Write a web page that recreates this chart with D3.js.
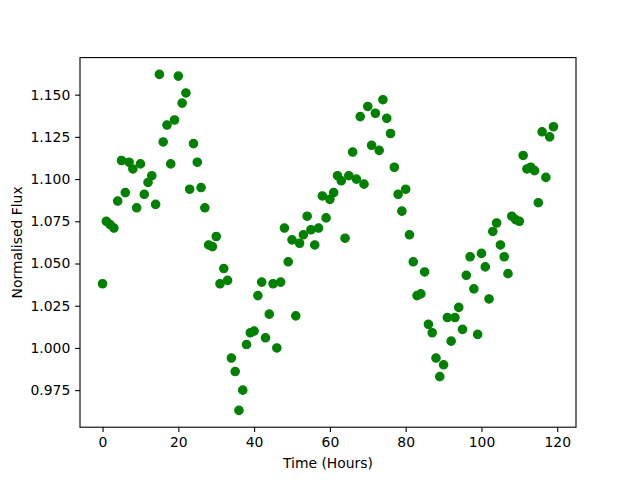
<!DOCTYPE html>
<html>
<head>
<meta charset="utf-8">
<script src="https://cdn.jsdelivr.net/npm/d3@7"></script>
<style>
  body { margin: 0; background: #fff; }
  text { font-family: "DejaVu Sans", sans-serif; }
</style>
</head>
<body>
<figure id="flux" style="margin:0"></figure>
<script>
// hours since start, one reading per hour
const hours = d3.range(0, 120);

// normalised flux
const flux = [
  1.038, 1.075, 1.073, 1.071, 1.087, 1.111, 1.092, 1.110, 1.106, 1.083,
  1.109, 1.091, 1.098, 1.102, 1.085, 1.162, 1.122, 1.132, 1.109, 1.135,
  1.161, 1.145, 1.151, 1.094, 1.121, 1.110, 1.095, 1.083, 1.061, 1.060,
  1.066, 1.038, 1.047, 1.040, 0.994, 0.986, 0.963, 0.975, 1.002, 1.009,
  1.010, 1.031, 1.039, 1.006, 1.020, 1.038, 1.000, 1.039, 1.071, 1.051,
  1.064, 1.019, 1.062, 1.067, 1.078, 1.070, 1.061, 1.071, 1.090, 1.077,
  1.088, 1.092, 1.102, 1.099, 1.065, 1.102, 1.116, 1.100, 1.137, 1.097,
  1.143, 1.120, 1.139, 1.117, 1.147, 1.136, 1.127, 1.107, 1.091, 1.081,
  1.094, 1.067, 1.051, 1.031, 1.032, 1.045, 1.014, 1.009, 0.994, 0.983,
  0.990, 1.018, 1.004, 1.018, 1.024, 1.011, 1.043, 1.054, 1.035, 1.008,
  1.056, 1.048, 1.029, 1.069, 1.074, 1.061, 1.054, 1.044, 1.078, 1.076,
  1.075, 1.114, 1.106, 1.107, 1.105, 1.086, 1.128, 1.101, 1.125, 1.131
];

const xTicks = [0, 20, 40, 60, 80, 100, 120];
const yTicks = [0.975, 1.000, 1.025, 1.050, 1.075, 1.100, 1.125, 1.150];

const W = 640, H = 480;
const margin = { top: 57.6, right: 64, bottom: 52.8, left: 80 };
const width = W - margin.left - margin.right;
const height = H - margin.top - margin.bottom;
const fontSize = 13.9;
const tick = 4.86;

const svg = d3.select("figure#flux")
  .append("svg")
  .attr("width", W)
  .attr("height", H);

const g = svg.append("g")
  .attr("transform", "translate(" + margin.left + "," + margin.top + ")");

// 5% padding either side, like matplotlib autoscale
const xMin = d3.min(hours), xMax = d3.max(hours);
const xPad = (xMax - xMin) * 0.05;
const x = d3.scaleLinear()
  .domain([xMin - xPad, xMax + xPad])
  .range([0, width]);

const yMin = d3.min(flux), yMax = d3.max(flux);
const yPad = (yMax - yMin) * 0.05;
const y = d3.scaleLinear()
  .domain([yMin - yPad, yMax + yPad])
  .range([height, 0]);

// points
g.selectAll("circle")
  .data(hours)
  .enter()
  .append("circle")
  .attr("cx", (d, i) => x(d))
  .attr("cy", (d, i) => y(flux[i]))
  .attr("r", 4.2)
  .attr("fill", "#008000")
  .attr("stroke", "#008000")
  .attr("stroke-width", 1.2);

// frame
g.append("rect")
  .attr("width", width)
  .attr("height", height)
  .attr("fill", "none")
  .attr("stroke", "#000")
  .attr("stroke-width", 1.1);

// x axis
const xAxis = g.append("g")
  .attr("transform", "translate(0," + height + ")")
  .call(d3.axisBottom(x).tickValues(xTicks).tickSize(tick).tickPadding(tick).tickFormat(d3.format("d")));

// y axis
const yAxis = g.append("g")
  .call(d3.axisLeft(y).tickValues(yTicks).tickSize(tick).tickPadding(tick).tickFormat(d3.format(".3f")));

[xAxis, yAxis].forEach(a => {
  a.select(".domain").remove();
  a.selectAll("line").attr("stroke", "#000").attr("stroke-width", 1.1);
  a.selectAll("text")
    .attr("fill", "#000")
    .style("font-family", "DejaVu Sans")
    .style("font-size", fontSize + "px");
});

// axis labels
svg.append("text")
  .attr("x", margin.left + width / 2)
  .attr("y", 468)
  .attr("text-anchor", "middle")
  .style("font-size", fontSize + "px")
  .text("Time (Hours)");

svg.append("text")
  .attr("transform", "translate(22," + (margin.top + height / 2) + ") rotate(-90)")
  .attr("text-anchor", "middle")
  .style("font-size", fontSize + "px")
  .text("Normalised Flux");
</script>
</body>
</html>
